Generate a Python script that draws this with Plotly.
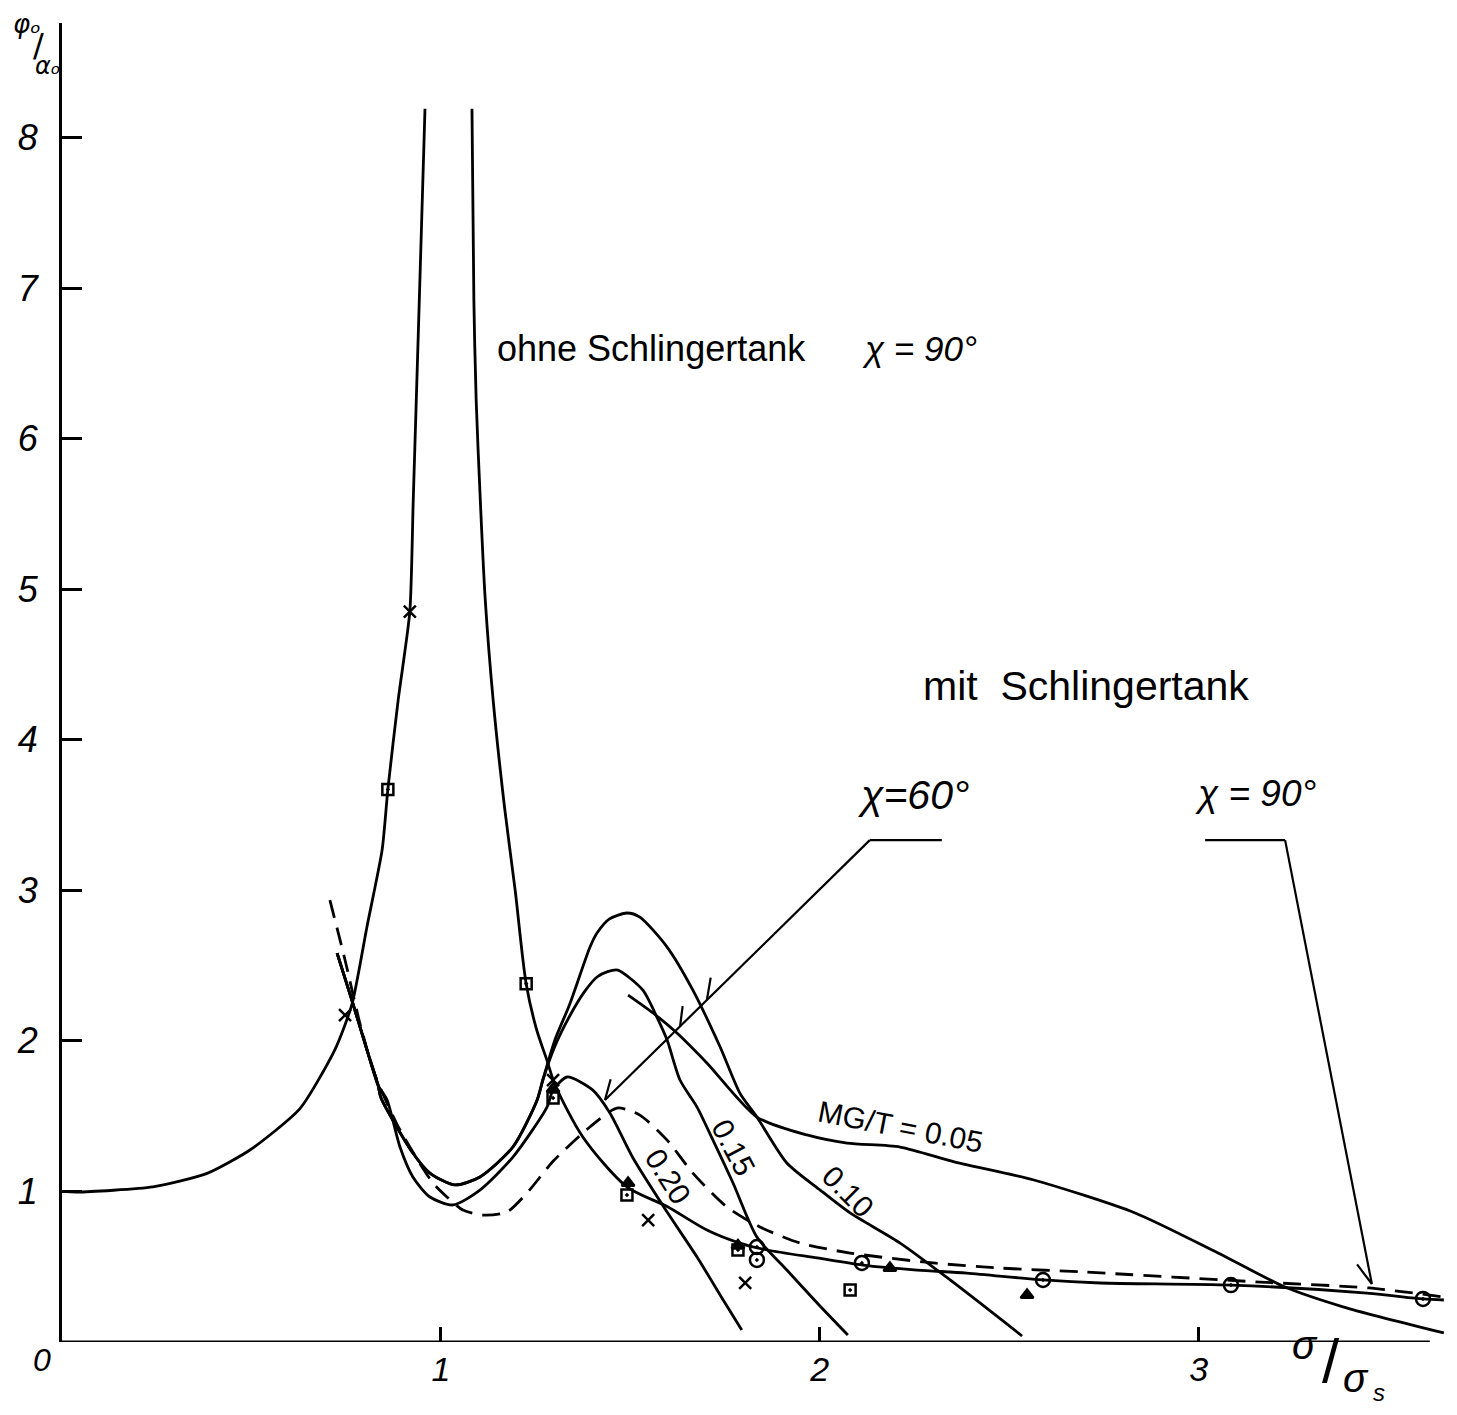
import plotly.graph_objects as go

# ---------------- data ----------------
x_ticks = [1, 2, 3]
y_ticks = [1, 2, 3, 4, 5, 6, 7, 8]
X_RANGE = [0, 3.65]
Y_RANGE = [0, 8.76]

# ohne Schlingertank, chi = 90 deg (resonance curve)
ohne_left_x = [0.0, 0.04, 0.24, 0.383, 0.496, 0.628, 0.72, 0.765, 0.805, 0.845, 0.86, 0.887, 0.918, 0.927, 0.943, 0.958]
ohne_left_y = [1.0, 0.996, 1.03, 1.12, 1.275, 1.55, 1.94, 2.24, 2.76, 3.27, 3.67, 4.26, 4.85, 5.59, 6.92, 8.19]
ohne_right_x = [1.082, 1.087, 1.093, 1.104, 1.117, 1.138, 1.168, 1.196, 1.225, 1.252, 1.280, 1.301, 1.375, 1.491,
                1.597, 1.702, 1.789, 1.861, 1.993, 2.114, 2.257, 2.388, 2.589, 2.740, 3.085, 3.444, 3.592, 3.647]
ohne_right_y = [8.19, 6.92, 6.26, 5.59, 4.93, 4.26, 3.55, 3.00, 2.38, 2.08, 1.87, 1.71, 1.36, 1.03,
                0.90, 0.744, 0.657, 0.611, 0.558, 0.511, 0.478, 0.458, 0.412, 0.392, 0.378, 0.325, 0.286, 0.279]

# mit Schlingertank, chi = 60 deg, MG/T = 0.10
mg010_x = [0.726, 0.765, 0.805, 0.834, 0.842, 0.926, 0.971, 1.037, 1.103, 1.190, 1.254, 1.269, 1.300, 1.341, 1.393,
           1.412, 1.445, 1.491, 1.525, 1.597, 1.665, 1.737, 1.789, 1.834, 1.913, 2.001, 2.080, 2.212, 2.344, 2.534]
mg010_y = [2.583, 2.27, 1.939, 1.707, 1.62, 1.255, 1.122, 1.043, 1.096, 1.295, 1.607, 1.740, 2.00, 2.25, 2.62,
           2.716, 2.81, 2.849, 2.822, 2.623, 2.337, 1.959, 1.653, 1.494, 1.189, 1.009, 0.857, 0.657, 0.412, 0.04]

# MG/T = 0.15
mg015_x = [0.726, 0.765, 0.805, 0.834, 0.842, 0.926, 0.971, 1.037, 1.103, 1.190, 1.254, 1.269, 1.300, 1.341, 1.380,
           1.412, 1.440, 1.467, 1.533, 1.570, 1.597, 1.631, 1.676, 1.718, 1.771, 1.834, 1.913, 1.993, 2.074]
mg015_y = [2.583, 2.27, 1.939, 1.707, 1.62, 1.255, 1.122, 1.043, 1.096, 1.295, 1.607, 1.740, 1.96, 2.17, 2.33,
           2.424, 2.46, 2.470, 2.337, 2.158, 2.005, 1.740, 1.560, 1.341, 1.056, 0.697, 0.478, 0.259, 0.046]

# MG/T = 0.20
mg020_x = [0.726, 0.765, 0.805, 0.834, 0.858, 0.892, 0.926, 0.971, 1.032, 1.103, 1.190, 1.280, 1.296, 1.333,
           1.401, 1.446, 1.507, 1.597, 1.676, 1.745, 1.794]
mg020_y = [2.583, 2.27, 1.939, 1.707, 1.607, 1.295, 1.096, 0.963, 0.910, 1.009, 1.228, 1.560, 1.673, 1.760,
           1.673, 1.521, 1.222, 0.863, 0.564, 0.279, 0.080]

# MG/T = 0.05
mg005_x = [1.494, 1.560, 1.623, 1.702, 1.834, 1.966, 2.072, 2.212, 2.357, 2.565, 2.832, 3.051, 3.228, 3.383, 3.647]
mg005_y = [2.304, 2.185, 2.052, 1.853, 1.494, 1.375, 1.321, 1.295, 1.195, 1.076, 0.857, 0.591, 0.365, 0.232, 0.060]

# mit Schlingertank, chi = 90 deg (dashed)
dash_x = [0.707, 0.747, 0.786, 0.826, 0.892, 0.979, 1.016, 1.058, 1.111, 1.174, 1.227, 1.296, 1.393, 1.465,
          1.525, 1.597, 1.665, 1.755, 1.842, 1.948, 2.080, 2.299, 2.476, 2.695, 3.162, 3.449, 3.647]
dash_y = [2.935, 2.537, 2.118, 1.773, 1.408, 1.056, 0.963, 0.876, 0.843, 0.863, 0.989, 1.20, 1.428, 1.554,
          1.507, 1.341, 1.122, 0.896, 0.764, 0.657, 0.591, 0.525, 0.491, 0.465, 0.398, 0.359, 0.299]

# measured points
cross_x = [0.747, 0.918, 1.296, 1.547, 1.803]
cross_y = [2.171, 4.85, 1.74, 0.810, 0.392]
square_x = [0.860, 1.225, 1.296, 1.491, 1.784, 2.080]
square_y = [3.67, 2.38, 1.62, 0.976, 0.611, 0.345]
tri_x = [1.296, 1.494, 1.784, 2.185, 2.547]
tri_y = [1.68, 1.056, 0.64, 0.491, 0.312]
circ_x = [1.834, 1.834, 2.111, 2.589, 3.085, 3.592]
circ_y = [0.631, 0.545, 0.525, 0.412, 0.378, 0.286]

# ---------------- figure ----------------
FONT = "Liberation Sans"
LW = 2.8
fig = go.Figure()

def curve(x, y, dash="solid", smooth=0.7):
    fig.add_trace(go.Scatter(x=x, y=y, mode="lines",
                             line=dict(color="black", width=LW, dash=dash, shape="spline", smoothing=smooth),
                             hoverinfo="skip", showlegend=False))

curve(ohne_left_x, ohne_left_y, smooth=0.6)
curve(ohne_right_x, ohne_right_y, smooth=0.8)
curve(mg010_x, mg010_y)
curve(mg015_x, mg015_y)
curve(mg020_x, mg020_y)
curve(mg005_x, mg005_y)
curve(dash_x, dash_y, dash="18px,10px")

def pts(x, y, symbol, size):
    fig.add_trace(go.Scatter(x=x, y=y, mode="markers",
                             marker=dict(symbol=symbol, size=size, color="black",
                                         line=dict(color="black", width=2.5)),
                             hoverinfo="skip", showlegend=False, cliponaxis=False))

pts(cross_x, cross_y, "x-thin-open", 12)
pts(square_x, square_y, "square-open-dot", 11)
pts(tri_x, tri_y, "triangle-up", 11)
pts(circ_x, circ_y, "circle-open-dot", 14)

# pointer lines (chi = 60 and chi = 90)
ptr = dict(color="black", width=2.2)
shapes = [
    dict(type="line", x0=0, y0=0, x1=3.61, y1=0, line=dict(color="black", width=3)),
    dict(type="line", x0=2.132, y0=3.333, x1=2.322, y1=3.333, line=ptr),
    dict(type="line", x0=2.132, y0=3.333, x1=1.433, y1=1.607, line=ptr),
    dict(type="line", x0=1.702, y0=2.271, x1=1.712, y1=2.42, line=ptr),
    dict(type="line", x0=1.631, y0=2.092, x1=1.638, y1=2.23, line=ptr),
    dict(type="line", x0=1.433, y0=1.607, x1=1.448, y1=1.745, line=ptr),
    dict(type="line", x0=3.017, y0=3.333, x1=3.228, y1=3.333, line=ptr),
    dict(type="line", x0=3.228, y0=3.333, x1=3.457, y1=0.385, line=ptr),
    dict(type="line", x0=3.457, y0=0.385, x1=3.418, y1=0.515, line=ptr),
]

def ann(x, y, text, size=34, angle=0, style="normal"):
    return dict(x=x, y=y, xref="x", yref="y", text=text, showarrow=False,
                textangle=angle, xanchor="center", yanchor="middle",
                font=dict(family=FONT, size=size, color="black", style=style))

# page-pixel placement for the axis-title pieces outside the plot area
PLOT_L, PLOT_R, PLOT_T, PLOT_B = 62, 1445, 23, 1342
def pann(px, py, text, size, style="normal", family=FONT):
    return dict(x=(px - PLOT_L) / (PLOT_R - PLOT_L), y=(PLOT_B - py) / (PLOT_B - PLOT_T),
                xref="paper", yref="paper", text=text, showarrow=False,
                xanchor="center", yanchor="middle",
                font=dict(family=family, size=size, color="black", style=style))

annotations = [
    ann(1.557, 6.60, "ohne Schlingertank", 36),
    ann(2.264, 6.60, "χ = 90°", 35, style="italic"),
    ann(2.703, 4.36, "mit  Schlingertank", 41),
    ann(2.246, 3.63, "χ=60°", 41, style="italic"),
    ann(3.151, 3.64, "χ = 90°", 37, style="italic"),
    ann(2.212, 1.43, "MG/T = 0.05", 30, angle=11),
    ann(2.075, 1.00, "0.10", 30, angle=45),
    ann(1.772, 1.29, "0.15", 30, angle=62),
    ann(1.600, 1.10, "0.20", 30, angle=58),
    pann(42, 1360, "0", 32, style="italic"),
    pann(27, 24, "φₒ", 26, style="italic", family="DejaVu Sans"),
    pann(38, 45, "/", 32, family="DejaVu Sans"),
    pann(48, 66, "αₒ", 24, style="italic", family="DejaVu Sans"),
    pann(1305, 1345, "σ", 40, style="italic"),
    pann(1331, 1360, "/", 62),
    pann(1356, 1378, "σ", 40, style="italic"),
    pann(1379, 1392, "s", 24, style="italic"),
]

# page body has an 8 px margin, so the figure is shrunk/offset to keep the plot area in place
fig.update_layout(
    width=1441, height=1399, autosize=False,
    margin=dict(l=54, r=4, t=15, b=65, pad=0),
    paper_bgcolor="white", plot_bgcolor="white",
    showlegend=False, hovermode=False,
    shapes=shapes, annotations=annotations,
    xaxis=dict(range=X_RANGE, showgrid=False, zeroline=False, showline=False,
               tickmode="array", tickvals=x_ticks, ticktext=[str(v) for v in x_ticks],
               ticks="inside", ticklen=15, tickwidth=2.5, tickcolor="black",
               ticklabelstandoff=4,
               tickfont=dict(family=FONT, size=34, color="black", style="italic")),
    yaxis=dict(range=Y_RANGE, showgrid=False, zeroline=False,
               showline=True, linecolor="black", linewidth=3,
               tickmode="array", tickvals=y_ticks, ticktext=[str(v) for v in y_ticks],
               ticks="inside", ticklen=20, tickwidth=2.5, tickcolor="black",
               ticklabelstandoff=14,
               tickfont=dict(family=FONT, size=36, color="black", style="italic")),
)

fig.write_html("out.html")
